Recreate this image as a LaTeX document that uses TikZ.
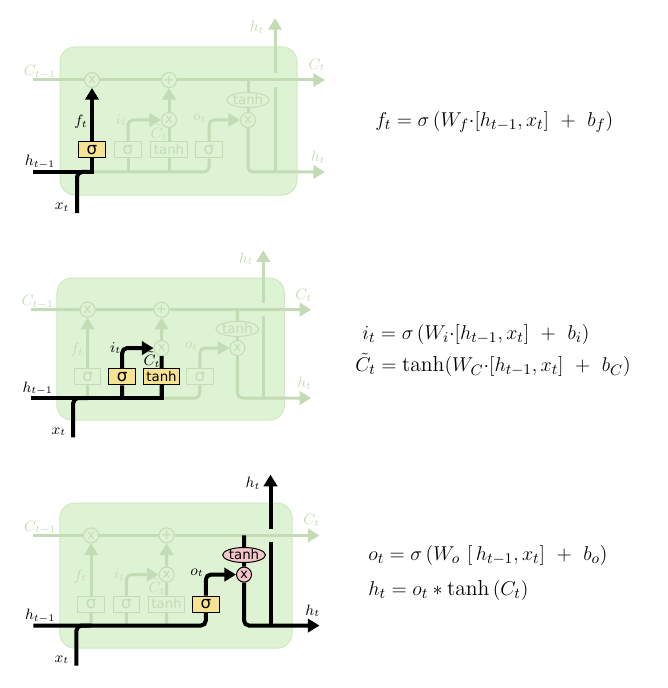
\documentclass[tikz,border=0pt]{standalone}
\usepackage{fontspec}
\usetikzlibrary{arrows.meta,shapes.geometric}
\newfontfamily\gatefont{DejaVu Sans}

\definecolor{cellfill}{RGB}{222,242,212}
\definecolor{celledge}{RGB}{206,232,192}
\definecolor{dimgreen}{RGB}{196,220,182}
\definecolor{gateyellow}{RGB}{246,226,145}
\definecolor{oppink}{RGB}{245,196,202}

\tikzset{
  dimline/.style={draw=dimgreen, line width=1.8pt},
  hotline/.style={draw=black, line width=2.4pt},
  flow/.style={-{Triangle[length=7pt,width=8pt]}},
  gatebox/.style={rectangle, minimum width=16pt, minimum height=9.6pt, inner sep=0pt,
    font=\gatefont\normalsize, line width=0.6pt},
  dimgate/.style={gatebox, draw=dimgreen, fill=cellfill, text=dimgreen},
  hotgate/.style={gatebox, draw=black, fill=gateyellow, text=black},
  opnode/.style={circle, minimum size=9pt, inner sep=0pt, font=\gatefont\footnotesize, line width=0.6pt},
  dimop/.style={opnode, draw=dimgreen, fill=cellfill, text=dimgreen},
  hotop/.style={opnode, draw=black, fill=oppink, text=black},
  squash/.style={ellipse, minimum width=21pt, minimum height=9pt, inner sep=0pt,
    font=\gatefont\footnotesize, line width=0.6pt},
  dimsquash/.style={squash, draw=dimgreen, fill=cellfill, text=dimgreen},
  hotsquash/.style={squash, draw=black, fill=oppink, text=black},
  dimlabel/.style={text=dimgreen, font=\small, inner sep=0.5pt},
  hotlabel/.style={text=black, font=\small, inner sep=0.5pt},
  eqn/.style={anchor=west, inner sep=0pt, font=\fontsize{13}{15.5}\selectfont},
}

% one cell; #1 forget, #2 input, #3 output: dim or hot
\newcommand{\lstmcell}[3]{%
  \filldraw[fill=cellfill, draw=celledge, line width=0.6pt, rounded corners=9pt] (60,47) rectangle (297,195);
  \coordinate (cin) at (33,80);
  \coordinate (cout) at (325,80);
  \coordinate (hin) at (33,172);
  \coordinate (hout) at (325,172);
  \coordinate (xin) at (77,213);
  \coordinate (ctap) at (248,80);
  \coordinate (hjoin) at (275,172);
  \coordinate (hgaplow) at (275,87);
  \coordinate (hgaphigh) at (275,73);
  \coordinate (htop) at (275,18);
  \node[dimop] (fmul) at (92,80) {x};
  \node[dimop] (cadd) at (169,80) {+};
  \node[dimop] (imul) at (169,120) {x};
  \node[#3op] (omul) at (248,120) {x};
  \node[#3squash] (otanh) at (248,100) {tanh};
  \node[#1gate] (fgate) at (92,150) {σ};
  \node[#2gate] (igate) at (128,150) {σ};
  \node[#2gate, minimum width=22pt, font=\gatefont\footnotesize] (cgate) at (169,150) {tanh};
  \node[#3gate] (ogate) at (209,150) {σ};
  \draw[dimline, flow] (cin) -- (fmul) -- (cadd) -- (cout);
  \draw[dimline, rounded corners=3pt] (hin) -| (ogate);
  \draw[#1line] (fgate) -- (fgate |- hin);
  \draw[#2line] (igate) -- (igate |- hin);
  \draw[#2line] (cgate) -- (cgate |- hin);
  \draw[#1line, flow] (fgate) -- (fmul);
  \draw[#2line, flow, rounded corners=3pt] (igate) |- (imul);
  \draw[#2line] (cgate) -- (imul);
  \draw[dimline, flow] (imul) -- (cadd);
  \draw[#3line, flow, rounded corners=3pt] (ogate) |- (omul);
  \draw[#3line] (ctap) -- (otanh) -- (omul);
  \draw[#3line, flow, rounded corners=3pt] (omul) |- (hout);
  \draw[#3line] (hjoin) -- (hgaplow);
  \draw[#3line, flow] (hgaphigh) -- (htop);
  \node[dimlabel] (lcprev) at (40,72) {$C_{t-1}$};
  \node[dimlabel] (lcnext) at (317,65) {$C_t$};
  \node[hotlabel] (lhprev) at (40,162) {$h_{t-1}$};
  \node[hotlabel] (lx) at (62,207) {$x_t$};
  \node[#1label] (lf) at (81,122) {$f_t$};
  \node[#2label] (li) at (121,120) {$i_t$};
  \node[#2label] (lct) at (159,132) {$\tilde{C}_t$};
  \node[#3label] (lo) at (200,118) {$o_t$};
  \node[#3label] (lhup) at (257,27) {$h_t$};
  \node[#3label] (lhout) at (318,157) {$h_t$};
}

\begin{document}
\begin{tikzpicture}[x=0.6pt, y=-0.6pt]
\useasboundingbox (0,0) rectangle (667,688);

% forget gate
\begin{scope}
\lstmcell{hot}{dim}{dim}
\draw[hotline] (hin) -| (fgate);
\draw[hotline, rounded corners=3pt] (xin) |- (fgate |- hin);
\end{scope}
\node[eqn] (eqforget) at (375,122) {$f_t = \sigma\,(W_f{\cdot}[h_{t-1},x_t]\ +\ b_f)$};

% input gate
\begin{scope}[shift={(-0.7,232.9)}, scale=0.96]
\lstmcell{dim}{hot}{dim}
\draw[hotline] (hin) -| (cgate);
\draw[hotline, rounded corners=3pt] (xin) |- (fgate |- hin);
\end{scope}
\node[eqn] (eqinput) at (362,334) {$i_t = \sigma\,(W_i{\cdot}[h_{t-1},x_t]\ +\ b_i)$};
\node[eqn] (eqcand) at (355,365) {$\tilde{C}_t = \tanh(W_C{\cdot}[h_{t-1},x_t]\ +\ b_C)$};

% output gate
\begin{scope}[shift={(1,457)}, scale=0.98]
\lstmcell{dim}{dim}{hot}
\draw[hotline, rounded corners=3pt] (hin) -| (ogate);
\draw[hotline, rounded corners=3pt] (xin) |- (fgate |- hin);
\end{scope}
\node[eqn] (eqoutput) at (368,555) {$o_t = \sigma\,(W_o\ [\,h_{t-1},x_t]\ +\ b_o)$};
\node[eqn] (eqhidden) at (368,590) {$h_t = o_t * \tanh\,(C_t)$};
\end{tikzpicture}
\end{document}
